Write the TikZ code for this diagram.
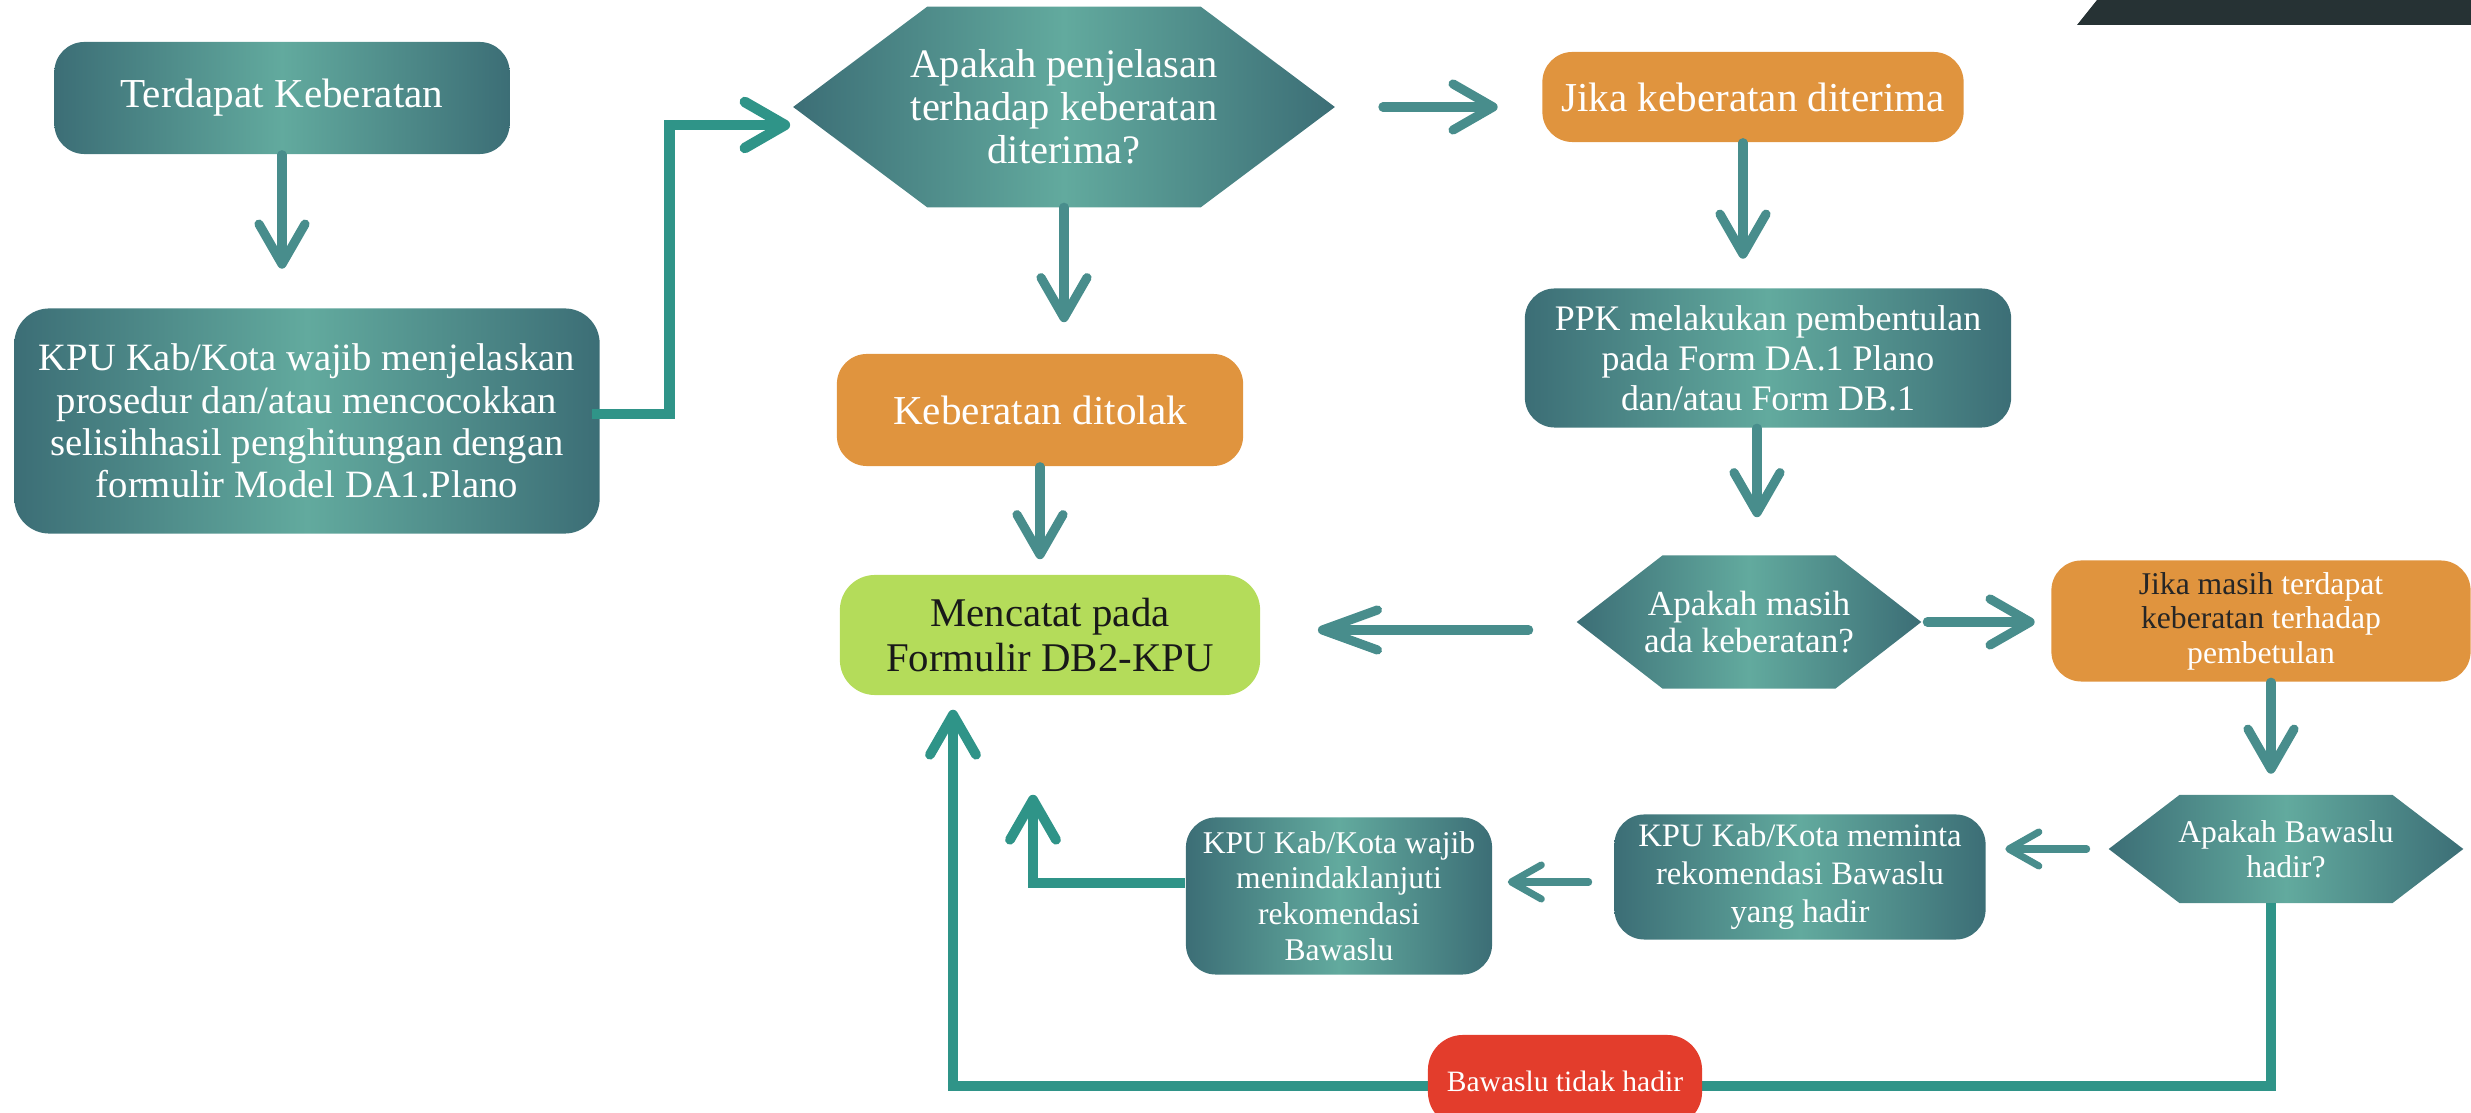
\documentclass[tikz,border=0pt]{standalone}
\usepackage{fontspec}
\setmainfont{Liberation Serif}
\usetikzlibrary{calc,positioning,arrows.meta,backgrounds}
\definecolor{tealdk}{HTML}{3C6E76}
\definecolor{teallt}{HTML}{62AA9E}
\definecolor{arrteal}{HTML}{488D8C}
\definecolor{lineteal}{HTML}{2F9488}
\definecolor{orng}{HTML}{E0943E}
\definecolor{lgreen}{HTML}{B4DC5A}
\definecolor{bred}{HTML}{E33D2C}
\definecolor{darkbar}{HTML}{263234}
\tikzstyle{tealbox}   = [rectangle, rounded corners=3mm, left color=tealdk, right color=tealdk, middle color=teallt, text=white, align=center, inner sep=0pt]
\tikzstyle{orangebox} = [rectangle, rounded corners=3mm, fill=orng, text=white, align=center, inner sep=0pt]
\tikzstyle{decision}  = [rectangle, text=white, align=center, inner sep=0pt]
\tikzstyle{hexshade}  = [left color=tealdk, right color=tealdk, middle color=teallt]
\tikzstyle{arrow}     = [line width=2.6pt, draw=arrteal, line cap=round, -{Straight Barb[round, length=4mm, width=4.6mm]}]
\tikzstyle{arrowsm}   = [line width=2pt, draw=arrteal, line cap=round, -{Straight Barb[round, length=3mm, width=3.4mm]}]
\tikzstyle{elbow}     = [line width=3pt, draw=lineteal, -{Straight Barb[round, length=4mm, width=4.6mm]}]
\newcommand{\hexbg}[2]{\path[hexshade] (#1.west) -- ($(#1.north west)+(#2,0)$) -- ($(#1.north east)+(-#2,0)$) -- (#1.east) -- ($(#1.south east)+(-#2,0)$) -- ($(#1.south west)+(#2,0)$) -- cycle;}

\begin{document}
\begin{tikzpicture}[x=0.01cm, y=-0.01cm]
	\useasboundingbox (0,0) rectangle (2471,1113);
	\fill[darkbar] (2077,25) -- (2097,0) -- (2471,0) -- (2471,25) -- cycle;

	% left column
	\node[tealbox, minimum width=4.55cm, minimum height=1.12cm, font=\fontsize{11.7}{13}\selectfont] (term) at (282,98) {Terdapat Keberatan};
	\node[tealbox, minimum width=5.85cm, minimum height=2.25cm, rounded corners=3.5mm, font=\fontsize{11}{12}\selectfont] (kpuA) at (307,421) {KPU Kab/Kota wajib menjelaskan\\prosedur dan/atau mencocokkan\\selisihhasil penghitungan dengan\\formulir Model DA1.Plano};

	% middle column
	\node[decision, minimum width=5.4cm, minimum height=1.99cm, font=\fontsize{11.5}{12.2}\selectfont] (hexA) at (1064,107) {Apakah penjelasan\\terhadap keberatan\\diterima?};
	\node[orangebox, minimum width=4.06cm, minimum height=1.12cm, font=\fontsize{11.7}{13}\selectfont] (tolak) at (1040,410) {Keberatan ditolak};
	\node[rectangle, rounded corners=3.5mm, fill=lgreen, text=black!90, align=center, minimum width=4.2cm, minimum height=1.2cm, font=\fontsize{11.6}{13}\selectfont] (catat) at (1050,635) {Mencatat pada\\Formulir DB2-KPU};

	% right column
	\node[orangebox, minimum width=4.21cm, minimum height=0.9cm, font=\fontsize{11.7}{13}\selectfont] (terima) at (1753,97) {Jika keberatan diterima};
	\node[tealbox, minimum width=4.86cm, minimum height=1.39cm, font=\fontsize{10.2}{11.4}\selectfont] (ppk) at (1768,358) {PPK melakukan pembentulan\\pada Form DA.1 Plano\\dan/atau Form DB.1};
	\node[decision, minimum width=3.43cm, minimum height=1.32cm, font=\fontsize{10}{10.7}\selectfont] (hexB) at (1749,622) {Apakah masih\\ada keberatan?};
	\node[orangebox, minimum width=4.19cm, minimum height=1.21cm, font=\fontsize{9}{9.8}\selectfont] (masih) at (2261,621) {{\color{black!85}Jika masih} terdapat\\{\color{black!85}keberatan} terhadap\\pembetulan};
	\node[decision, minimum width=3.53cm, minimum height=1.07cm, font=\fontsize{9}{10}\selectfont] (hexC) at (2286,849) {Apakah Bawaslu\\hadir?};
	\node[tealbox, minimum width=3.71cm, minimum height=1.25cm, font=\fontsize{9.3}{10.8}\selectfont] (minta) at (1800,877) {KPU Kab/Kota meminta\\rekomendasi Bawaslu\\yang hadir};
	\node[tealbox, minimum width=3.06cm, minimum height=1.57cm, font=\fontsize{9}{10.2}\selectfont] (wajibB) at (1339,896) {KPU Kab/Kota wajib\\menindaklanjuti\\rekomendasi\\Bawaslu};

	\begin{scope}[on background layer]
		\hexbg{hexA}{134}
		\hexbg{hexB}{86}
		\hexbg{hexC}{71}
	\end{scope}

	% connectors
	\draw[arrow, shorten >=0.39cm] (term.south) -- (term.south |- kpuA.north);
	\draw[elbow] ($(kpuA.east)+(-8,-7)$) -- ++(77,0) |- ($(hexA.west)+(-3,18)$);
	\draw[arrow, shorten >=0.31cm] (hexA.south) -- (hexA.south |- tolak.north);
	\draw[arrow, shorten >=0.15cm] (tolak.south) -- (tolak.south |- catat.north);
	\draw[arrow, shorten <=0.48cm, shorten >=0.44cm] (hexA.east) -- (hexA.east -| terima.west);
	\draw[arrow, shorten >=0.29cm] ($(terima.south)+(-10,0)$) -- ($(terima.south |- ppk.north)+(-10,0)$);
	\draw[arrow, shorten >=0.38cm] ($(ppk.south)+(-11,0)$) -- ($(ppk.south |- hexB.north)+(-11,0)$);
	\draw[arrow, shorten <=0.48cm, shorten >=0.57cm, -{Straight Barb[round, length=5.5mm, width=4mm]}] ($(hexB.west)+(0,8)$) -- ($(catat.east)+(0,-5)$);
	\draw[arrow, shorten <=0.06cm, shorten >=0.16cm] (hexB.east) -- (hexB.east -| masih.west);
	\draw[arrow, shorten >=0.21cm] ($(masih.south)+(10,0)$) -- ($(masih.south |- hexC.north)+(10,0)$);
	\draw[arrowsm, shorten <=0.22cm, shorten >=0.19cm] (hexC.west) -- (hexC.west -| minta.east);
	\draw[arrowsm, shorten <=0.25cm, shorten >=0.15cm] ($(minta.west)+(0,5)$) -- ($(minta.west -| wajibB.east)+(0,5)$);
	\draw[elbow, line width=2.8pt, shorten >=0.99cm] ($(wajibB.west)+(0,-13)$) -| ($(catat.south)+(-17,0)$);
	\draw[elbow, line width=2.8pt, shorten >=0.14cm] ($(hexC.south)+(-15,0)$) -- ++(0,183) -| ($(catat.south)+(-97,0)$);

	\node[rectangle, rounded corners=3.5mm, fill=bred, text=white, minimum width=2.74cm, minimum height=0.92cm, inner sep=0pt, font=\fontsize{8.4}{10}\selectfont] (tidak) at (1565,1081) {Bawaslu tidak hadir};
\end{tikzpicture}
\end{document}
